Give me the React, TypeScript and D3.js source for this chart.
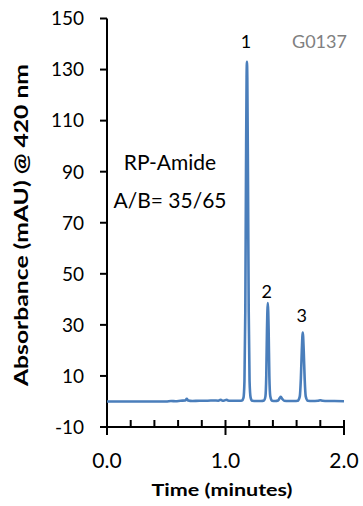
import React from 'react'
import * as d3 from 'd3'

// chromatogram trace (time in min, absorbance in mAU)
const times = [
  0, 0.5, 0.54, 0.58, 0.62, 0.66, 0.673, 0.685, 0.72, 0.78, 0.85, 0.9, 0.94, 0.96, 0.975, 0.99, 1.01, 1.02, 1.04, 1.08, 1.12,
  1.14, 1.152, 1.16, 1.167, 1.173, 1.178, 1.181, 1.184, 1.19, 1.196, 1.203, 1.212, 1.225, 1.26, 1.3,
  1.325, 1.337, 1.344, 1.35, 1.357, 1.364, 1.37, 1.378, 1.392, 1.42,
  1.445, 1.457, 1.467, 1.479, 1.495, 1.53, 1.58, 1.61,
  1.627, 1.636, 1.644, 1.652, 1.66, 1.668, 1.677, 1.695, 1.73, 1.78, 1.8, 1.82, 1.86, 1.92, 2.0
]
const absorbance = [
  0, 0, 0.2, 0.1, 0.3, 0.4, 1.0, 0.4, 0.2, 0.3, 0.3, 0.4, 0.3, 0.7, 0.3, 0.4, 0.7, 0.4, 0.3, 0.3, 0.3,
  0.4, 1.5, 8, 35, 90, 127, 133, 127, 85, 35, 8, 1.5, 0.3, 0.2, 0.2,
  0.4, 2, 10, 28, 38.5, 28, 10, 2, 0.3, 0.2,
  0.4, 1.3, 1.8, 1.0, 0.3, 0.2, 0.2, 0.3,
  2, 9, 20, 27, 20, 9, 2, 0.3, 0.2, 0.3, 0.5, 0.3, 0.2, 0.2, 0.1
]

const yTicks = [-10, 10, 30, 50, 70, 90, 110, 130, 150]
const xMajor = [0, 1, 2]
const xMinor = [0.2, 0.4, 0.6, 0.8, 1.2, 1.4, 1.6, 1.8]

const peakLabels = ['1', '2', '3']
const peakTimes = [1.181, 1.357, 1.652]
const peakHeights = [133, 38.5, 27]
const labelGap = [14, 5, 11] // px between peak top and label baseline

const font = 'Lato, "Open Sans", sans-serif'

export default function App() {
  const width = 363
  const height = 506
  const x = d3.scaleLinear().domain([0, 2]).range([107, 344])
  const y = d3.scaleLinear().domain([-10, 150]).range([427, 18.5])

  const pts: [number, number][] = times.map((t, i) => [t, absorbance[i]])
  const line = d3.line<[number, number]>()
    .x(d => x(d[0]))
    .y(d => y(d[1]))
    .curve(d3.curveMonotoneX)

  return (
    <div style={{ position: 'fixed', left: 0, top: 0, background: '#fff' }}>
      <svg width={width} height={height} style={{ display: 'block', fontFamily: font }}>
        {/* y axis */}
        <line x1={x(0)} x2={x(0)} y1={y(150)} y2={y(-10)} stroke="#000" strokeWidth={2} />
        {yTicks.map(t => (
          <g key={t}>
            <line x1={x(0) - 7} x2={x(0)} y1={y(t)} y2={y(t)} stroke="#000" strokeWidth={2} />
            <text x={84} y={y(t)} dy="0.36em" textAnchor="end" fontSize={19} fill="#000">{t}</text>
          </g>
        ))}
        {/* x axis */}
        <line x1={x(0) - 7} x2={x(2)} y1={y(-10)} y2={y(-10)} stroke="#000" strokeWidth={2} />
        {xMinor.map(t => (
          <line key={t} x1={x(t)} x2={x(t)} y1={y(-10) - 7} y2={y(-10)} stroke="#000" strokeWidth={2} />
        ))}
        {xMajor.map(t => (
          <g key={t}>
            <line x1={x(t)} x2={x(t)} y1={y(-10) - 7} y2={y(-10) + 8} stroke="#000" strokeWidth={2} />
            <text x={x(t)} y={468} textAnchor="middle" fontSize={21} fill="#000">{t.toFixed(1)}</text>
          </g>
        ))}
        {/* trace */}
        <path d={line(pts) || ''} fill="none" stroke="#4a7ebb" strokeWidth={2.6} strokeLinejoin="round" />
        {peakLabels.map((l, i) => (
          <text key={l} x={x(peakTimes[i]) - 1} y={y(peakHeights[i]) - labelGap[i]} textAnchor="middle" fontSize={18} fill="#000">{l}</text>
        ))}
        <text x={292} y={48} fontSize={18} fill="#808080">G0137</text>
        <text x={170} y={170} textAnchor="middle" fontSize={21} fill="#000">RP-Amide</text>
        <text x={170} y={208} textAnchor="middle" fontSize={21} fill="#000">A/B= 35/65</text>
        {/* titles */}
        <text transform="translate(28,225) rotate(-90)" textAnchor="middle" fontSize={18} fontWeight="bold" fill="#000"
          textLength={322} lengthAdjust="spacingAndGlyphs">Absorbance (mAU) @ 420 nm</text>
        <text x={222} y={496} textAnchor="middle" fontSize={17} fontWeight="bold" fill="#000"
          textLength={141} lengthAdjust="spacingAndGlyphs">Time (minutes)</text>
      </svg>
    </div>
  )
}
